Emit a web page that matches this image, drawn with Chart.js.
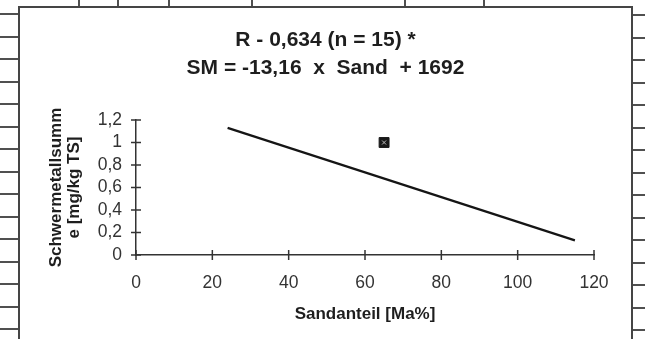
<!DOCTYPE html>
<html>
<head>
<meta charset="utf-8">
<script src="https://cdn.jsdelivr.net/npm/chart.js@4.4.1/dist/chart.umd.min.js"></script>
<style>
  html, body { margin: 0; padding: 0; background: #fff; overflow: hidden; }
  #page { position: relative; width: 645px; height: 339px; background: #fff; }
  .ln { position: absolute; background: #505050; }
  #frame { position: absolute; left: 18px; top: 6px; width: 615px; height: 400px;
           border: 2px solid #454545; box-sizing: border-box; background: #fff; }
  #chartBox { position: absolute; left: 0; top: 0; width: 645px; height: 339px; }
</style>
</head>
<body>
<div id="page">
  <div id="frame"></div>
  <div id="chartBox"><canvas id="c" width="645" height="339"></canvas></div>
</div>
<script>
// ---- data ----
const sandValues = [65];            // Sandanteil [Ma%] of the visible sample
const smValues = [1.0];             // Schwermetallsumme [mg/kg TS]
const fitSand = [24, 115];          // regression line end points (x)
const fitSM = [1.13, 0.13];         // regression line end points (y)
const xTickLabels = ['0', '20', '40', '60', '80', '100', '120'];
const yTickLabels = ['0', '0,2', '0,4', '0,6', '0,8', '1', '1,2'];
const titleLines = ['R - 0,634 (n = 15) *', 'SM = -13,16  x  Sand  + 1692'];
const xTitle = 'Sandanteil [Ma%]';
const yTitle = ['Schwermetallsumm', 'e [mg/kg TS]'];

// ---- page decoration: scanned table lines around the chart frame ----
(function () {
  const page = document.getElementById('page');
  function add(l, t, w, h) {
    const d = document.createElement('div');
    d.className = 'ln';
    d.style.left = l + 'px'; d.style.top = t + 'px';
    d.style.width = w + 'px'; d.style.height = h + 'px';
    page.insertBefore(d, page.firstChild);
  }
  for (let k = 0; k < 15; k++) add(0, 13 + 22.5 * k, 19, 2);
  for (let k = 0; k < 15; k++) add(632, 14 + 22.5 * k, 13, 2);
  [79, 118, 169, 252, 405, 484].forEach(x => add(x - 1, 0, 2, 7));
})();

const scatterPts = sandValues.map((v, i) => ({ x: v, y: smValues[i] }));
const fitPts = fitSand.map((v, i) => ({ x: v, y: fitSM[i] }));

const crossTicks = {
  id: 'crossTicks',
  afterDatasetsDraw(chart) {
    const { ctx, scales: { x, y } } = chart;
    const y0 = y.getPixelForValue(0);
    const x0 = x.getPixelForValue(0);
    ctx.save();
    ctx.strokeStyle = '#333';
    ctx.lineWidth = 1.5;
    x.ticks.forEach(t => {
      const px = x.getPixelForValue(t.value);
      ctx.beginPath(); ctx.moveTo(px, y0 - 5); ctx.lineTo(px, y0 + 5); ctx.stroke();
    });
    y.ticks.forEach(t => {
      const py = y.getPixelForValue(t.value);
      ctx.beginPath(); ctx.moveTo(x0 - 5, py); ctx.lineTo(x0 + 5, py); ctx.stroke();
    });
    // light inner pattern of the scanned marker
    const meta = chart.getDatasetMeta(0);
    meta.data.forEach(pt => {
      ctx.strokeStyle = '#bbb';
      ctx.lineWidth = 1;
      ctx.beginPath();
      ctx.moveTo(pt.x - 2, pt.y - 2); ctx.lineTo(pt.x + 2, pt.y + 2);
      ctx.moveTo(pt.x + 2, pt.y - 2); ctx.lineTo(pt.x - 2, pt.y + 2);
      ctx.stroke();
    });
    ctx.restore();
  }
};

const FONT = '"Liberation Sans", Arial, sans-serif';

new Chart(document.getElementById('c'), {
  type: 'scatter',
  data: {
    datasets: [
      {
        label: 'Messwerte',
        data: scatterPts,
        pointStyle: 'rect',
        pointRadius: 7,
        backgroundColor: '#1a1a1a',
        borderColor: '#1a1a1a',
        borderWidth: 1
      },
      {
        label: 'Regression',
        data: fitPts,
        showLine: true,
        borderColor: '#151515',
        borderWidth: 2.2,
        pointRadius: 0,
        fill: false
      }
    ]
  },
  options: {
    responsive: false,
    animation: false,
    devicePixelRatio: 1,
    layout: { padding: { left: 6, right: 0, top: 0, bottom: 0 } },
    plugins: {
      legend: { display: false },
      tooltip: { enabled: false },
      title: {
        display: true,
        text: titleLines,
        color: '#1e1e1e',
        font: { family: FONT, size: 21, weight: 'bold', lineHeight: '28px' },
        padding: { top: 26, bottom: 38 }
      }
    },
    scales: {
      x: {
        type: 'linear',
        position: 'bottom',
        min: 0, max: 120,
        afterFit(s) { s.height = 84; },
        ticks: {
          stepSize: 20,
          autoSkip: false,
          maxRotation: 0,
          padding: 18,
          color: '#333',
          font: { family: FONT, size: 17.5 },
          callback: (v, i) => xTickLabels[i]
        },
        grid: { display: true, drawOnChartArea: false, drawTicks: false },
        border: { display: true, color: '#333', width: 1.5 },
        title: {
          display: true,
          text: xTitle,
          color: '#1e1e1e',
          font: { family: FONT, size: 17, weight: 'bold' },
          padding: { top: 0, bottom: 14 }
        }
      },
      y: {
        type: 'linear',
        position: 'left',
        min: 0, max: 1.2,
        afterFit(s) { s.width = 130; },
        ticks: {
          stepSize: 0.2,
          autoSkip: false,
          padding: 14,
          color: '#333',
          font: { family: FONT, size: 17.5 },
          callback: (v, i) => yTickLabels[i]
        },
        grid: { display: true, drawOnChartArea: false, drawTicks: false },
        border: { display: true, color: '#333', width: 1.5 },
        title: {
          display: true,
          text: yTitle,
          color: '#1e1e1e',
          font: { family: FONT, size: 17, weight: 'bold', lineHeight: '18px' },
          padding: { top: 41, bottom: 0 }
        }
      },
      yRight: {
        type: 'linear',
        position: 'right',
        display: true,
        afterFit(s) { s.width = 51; },
        ticks: { display: false },
        grid: { display: false, drawTicks: false },
        border: { display: false }
      }
    }
  },
  plugins: [crossTicks]
});
</script>
</body>
</html>
